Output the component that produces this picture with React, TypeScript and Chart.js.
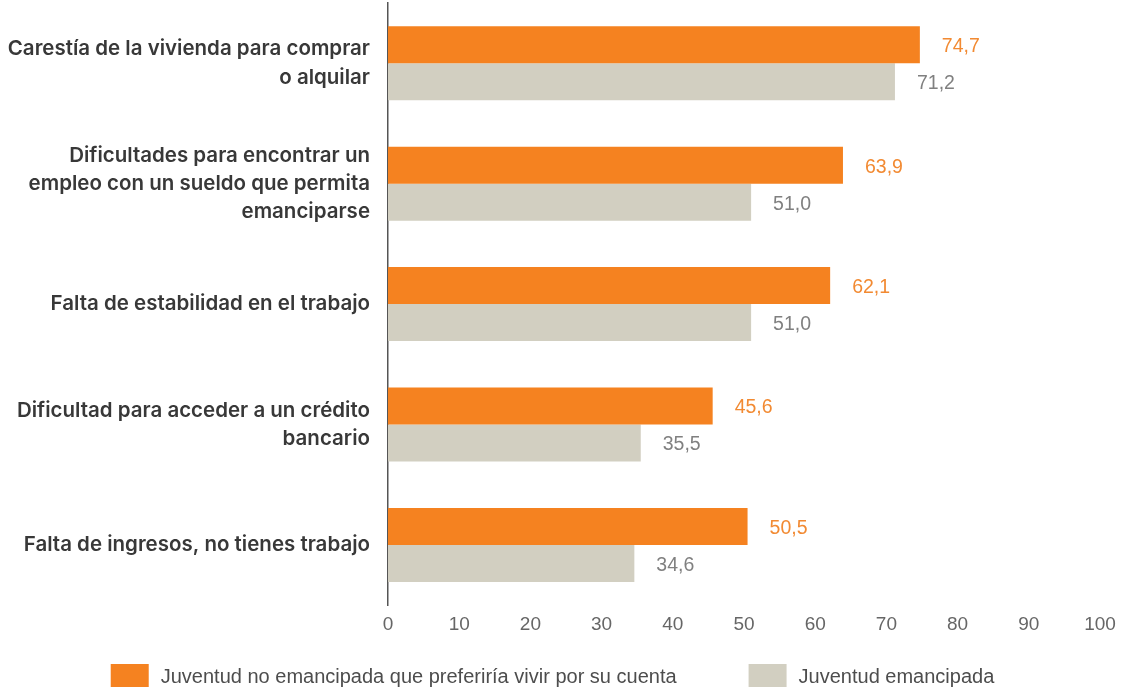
import React, { useEffect, useRef } from "react";
import { Chart, registerables } from "chart.js";

Chart.register(...registerables);

const categories: string[][] = [
  ["Carestía de la vivienda para comprar", "o alquilar"],
  ["Dificultades para encontrar un", "empleo con un sueldo que permita", "emanciparse"],
  ["Falta de estabilidad en el trabajo"],
  ["Dificultad para acceder a un crédito", "bancario"],
  ["Falta de ingresos, no tienes trabajo"],
];
const seriesNames = [
  "Juventud no emancipada que preferiría vivir por su cuenta",
  "Juventud emancipada",
];
const noEmancipada = [74.7, 63.9, 62.1, 45.6, 50.5];
const emancipada = [71.2, 51.0, 51.0, 35.5, 34.6];
const xTicks = [0, 10, 20, 30, 40, 50, 60, 70, 80, 90, 100];

const ORANGE = "#F58220";
const BEIGE = "#D2CFC1";
const ORANGE_TEXT = "#F28A32";
const GRAY_TEXT = "#808080";
const LIGHT = "'Liberation Sans', Arial, sans-serif";

const valueLabels = {
  id: "valueLabels",
  afterDatasetsDraw(chart: any) {
    const ctx = chart.ctx;
    const colors = [ORANGE_TEXT, GRAY_TEXT];
    chart.data.datasets.forEach((ds: any, di: number) => {
      const meta = chart.getDatasetMeta(di);
      meta.data.forEach((el: any, i: number) => {
        const v = ds.data[i] as number;
        ctx.save();
        ctx.font = `19.5px ${LIGHT}`;
        ctx.fillStyle = colors[di];
        ctx.textAlign = "left";
        ctx.textBaseline = "middle";
        ctx.fillText(v.toFixed(1).replace(".", ","), el.x + 22, el.y + 2);
        ctx.restore();
      });
    });
  },
};

const customLegend = {
  id: "customLegend",
  afterDraw(chart: any) {
    const ctx = chart.ctx;
    const boxW = 38;
    const boxH = 24;
    const textGap = 12;
    const itemGap = 72;
    const boxTop = 664;
    ctx.save();
    ctx.font = `20px ${LIGHT}`;
    const items = chart.data.datasets.map((ds: any) => ({
      text: ds.label as string,
      color: ds.backgroundColor as string,
      w: boxW + textGap + ctx.measureText(ds.label).width,
    }));
    const total = items.reduce((s: number, it: any) => s + it.w, 0) + itemGap * (items.length - 1);
    let x = (chart.width - total) / 2 - 10;
    items.forEach((it: any) => {
      ctx.fillStyle = it.color;
      ctx.fillRect(x, boxTop, boxW, boxH);
      ctx.fillStyle = "#4d4d4d";
      ctx.textAlign = "left";
      ctx.textBaseline = "middle";
      ctx.fillText(it.text, x + boxW + textGap, boxTop + 13);
      x += it.w + itemGap;
    });
    ctx.restore();
  },
};

export default function App() {
  const ref = useRef<HTMLCanvasElement>(null);
  useEffect(() => {
    if (!ref.current) return;
    const chart = new Chart(ref.current, {
      type: "bar",
      data: {
        labels: categories,
        datasets: [
          {
            label: seriesNames[0],
            data: noEmancipada,
            backgroundColor: ORANGE,
            barPercentage: 1,
            categoryPercentage: 0.614,
          },
          {
            label: seriesNames[1],
            data: emancipada,
            backgroundColor: BEIGE,
            barPercentage: 1,
            categoryPercentage: 0.614,
          },
        ],
      },
      options: {
        indexAxis: "y",
        animation: false,
        responsive: false,
        maintainAspectRatio: false,
        layout: { padding: { left: 0, right: 25, top: 3, bottom: 43 } },
        plugins: {
          tooltip: { enabled: false },
          legend: { display: false },
        },
        scales: {
          x: {
            min: 0,
            max: 100,
            afterBuildTicks: (scale: any) => {
              scale.ticks = xTicks.map((v) => ({ value: v }));
            },
            afterFit: (scale: any) => {
              scale.paddingLeft = 0;
              scale.paddingRight = 0;
            },
            grid: { display: false, drawTicks: false },
            border: { display: false },
            ticks: {
              padding: 8,
              color: "#666666",
              font: { size: 19, family: LIGHT },
            },
          },
          y: {
            afterFit: (scale: any) => {
              scale.width = 388;
              scale.paddingTop = 0;
              scale.paddingBottom = 0;
            },
            grid: { display: false, drawTicks: false },
            border: { display: true, color: "#555555", width: 1.5 },
            ticks: {
              padding: 18,
              color: "#383838",
              font: { size: 20.5, family: "Inter, 'Liberation Sans', Arial, sans-serif", weight: 600, lineHeight: 1.38 },
            },
          },
        },
      },
      plugins: [valueLabels, customLegend],
    });
    return () => chart.destroy();
  }, []);
  return (
    <div style={{ position: "absolute", left: 0, top: 0, width: 1125, height: 687, overflow: "hidden" }}>
      <canvas ref={ref} width={1125} height={687} style={{ display: "block" }} />
    </div>
  );
}
